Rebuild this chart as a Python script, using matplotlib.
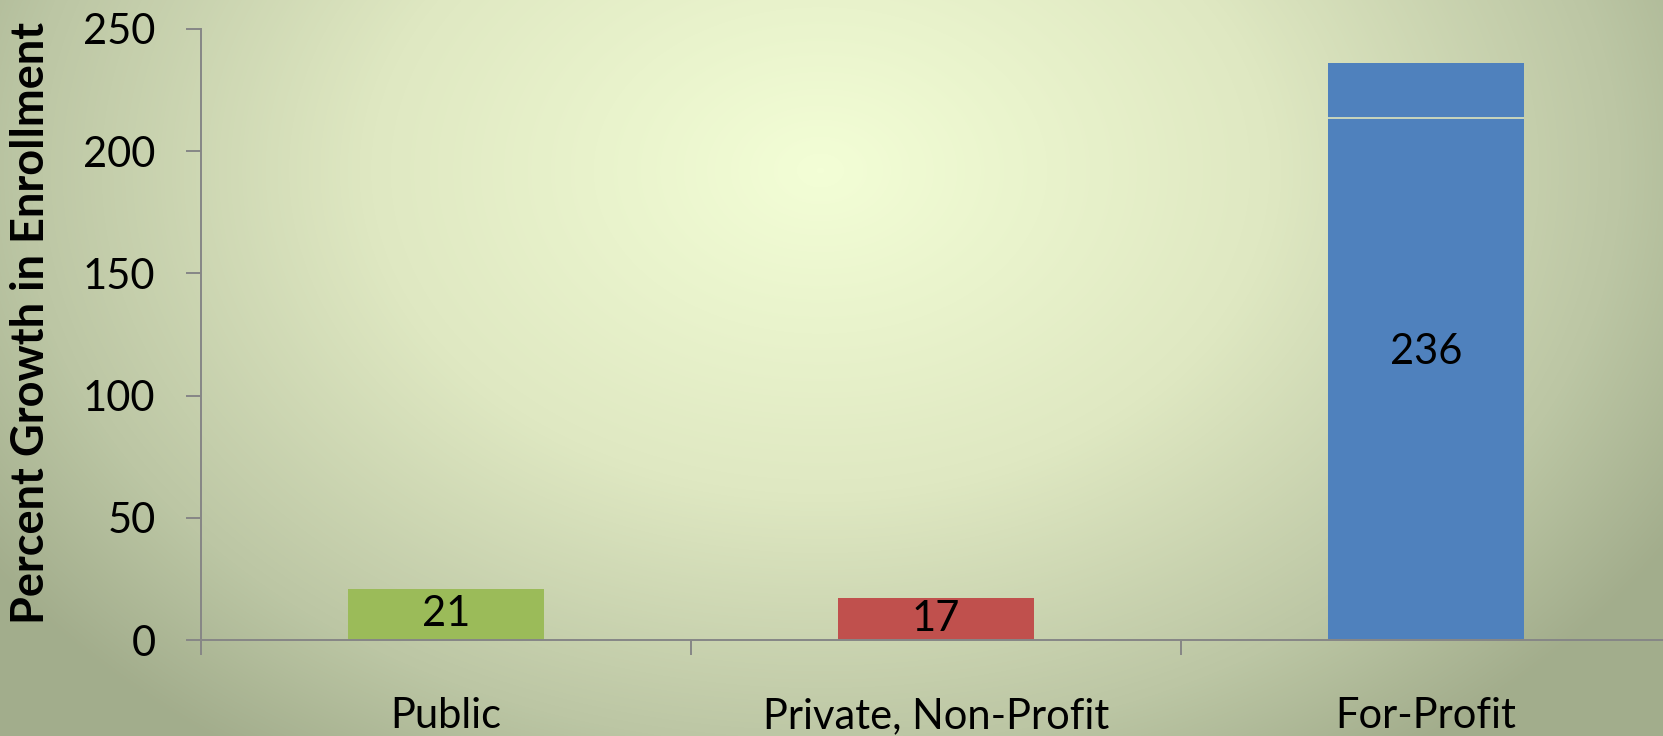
import numpy as np
import matplotlib
matplotlib.use("Agg")
import matplotlib.pyplot as plt
from matplotlib.colors import LinearSegmentedColormap

categories = ["Public", "Private, Non-Profit", "For-Profit"]
growth = [21, 17, 236]
bar_colors = ["#9BBB59", "#C0504D", "#4F81BD"]
y_ticks = [0, 50, 100, 150, 200, 250]

plt.rcParams['font.family'] = ['Lato', 'DejaVu Sans']
W, H = 1663, 736
fig = plt.figure(figsize=(W / 100, H / 100), dpi=100)

# radial background gradient
bg = fig.add_axes([0, 0, 1, 1], zorder=0)
yy, xx = np.mgrid[0:H, 0:W]
cx, cy = 820, 170
t = np.sqrt(((xx - cx) / 1000.0) ** 2 + ((yy - cy) / 720.0) ** 2)
t = np.clip(t, 0, 1)
cmap = LinearSegmentedColormap.from_list(
    "bg", [(0, "#f3fed6"), (0.45, "#dfe8c2"), (0.8, "#bcc6a4"), (1, "#a2ad8c")])
bg.imshow(t, cmap=cmap, vmin=0, vmax=1, aspect="auto", interpolation="bilinear")
bg.axis("off")

ax = fig.add_axes([201 / W, 1 - 640 / H, 1470 / W, 611 / H], zorder=1)
ax.patch.set_alpha(0)
x = np.arange(len(categories))
bars = ax.bar(x, growth, width=0.4, color=bar_colors, zorder=2)
for b, v in zip(bars, growth):
    ax.text(b.get_x() + b.get_width() / 2, v / 2, str(v), ha="center", va="center",
            fontsize=30, color="black", zorder=3)
# thin light line visible across the tall bar
big = bars[2]
ax.hlines(213.5, big.get_x(), big.get_x() + big.get_width(), color="#dfe4bb", lw=1.2, zorder=3)

ax.set_xlim(-0.5, 2.5)
ax.set_ylim(0, 250)
ax.set_yticks(y_ticks)
ax.set_yticklabels([str(v) for v in y_ticks], fontsize=30)
ax.set_xticks([-0.5, 0.5, 1.5, 2.5])
ax.set_xticklabels([])
ax.set_xticks(x, minor=True)
ax.set_xticklabels(categories, minor=True, fontsize=30)
ax.tick_params(axis="x", which="minor", length=0, pad=41)
ax.tick_params(axis="both", which="major", direction="out", length=10.8, width=1.4,
               color="#868686")
ax.tick_params(axis="y", pad=22)
for s in ["top", "right"]:
    ax.spines[s].set_visible(False)
for s in ["left", "bottom"]:
    ax.spines[s].set_color("#868686")
    ax.spines[s].set_linewidth(1.4)

fig.text(31 / W, 1 - 323 / H, "Percent Growth in Enrollment", rotation=90,
         ha="center", va="center", fontsize=32.5, fontweight="bold")

fig.savefig("out.png", dpi=100)
